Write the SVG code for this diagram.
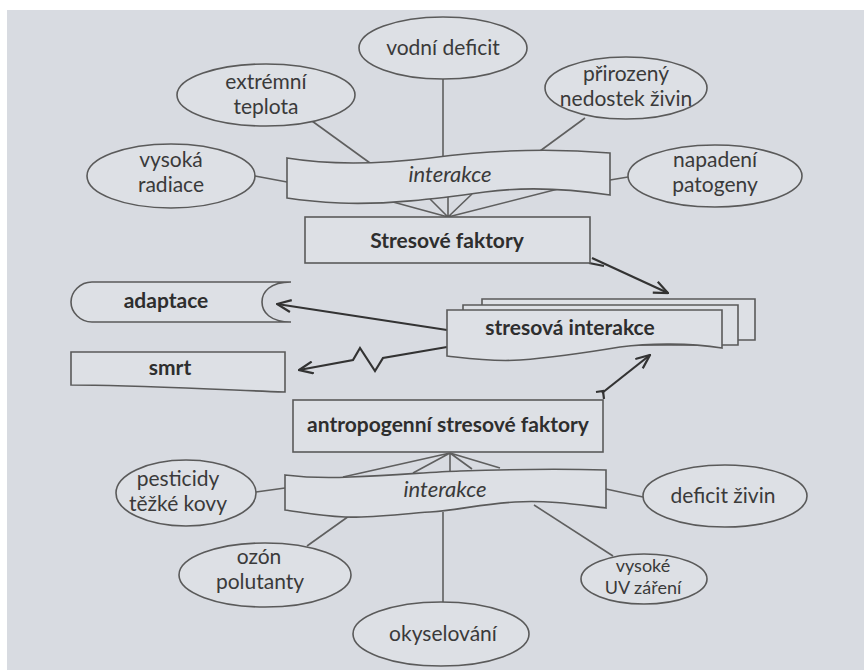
<svg xmlns="http://www.w3.org/2000/svg" width="864" height="670" viewBox="0 0 864 670">
<style>
.sh{fill:#dde0e5;stroke:#5a5a5a;stroke-width:1.6}
.ln{fill:none;stroke:#5f5f5f;stroke-width:1.6}
.ar{fill:none;stroke:#333;stroke-width:2.2}
.t{font-family:Lato,"Liberation Sans",sans-serif;font-size:21px;fill:#3a3a3a;text-anchor:middle}
.s{font-size:18px}
.b{font-weight:bold;fill:#2e2e2e}
.i{font-style:italic;font-size:22px}
</style>
<defs>
<marker id="ah" viewBox="0 0 16 14" refX="15" refY="7" markerWidth="16" markerHeight="14" markerUnits="userSpaceOnUse" orient="auto">
<path d="M1,1 L15,7 L1,13" fill="none" stroke="#333" stroke-width="2.2"/>
</marker>
</defs>
<rect width="864" height="670" fill="#ffffff"/>
<rect x="7" y="10" width="857" height="660" fill="#d8dbe1"/>

<g id="connectors">
<line class="ln" x1="443" y1="79" x2="443" y2="156"/>
<line class="ln" x1="312" y1="121" x2="370" y2="163"/>
<line class="ln" x1="585" y1="118" x2="540" y2="151"/>
<line class="ln" x1="255" y1="176" x2="287" y2="182"/>
<line class="ln" x1="628" y1="177" x2="610" y2="180"/>
<path class="ln" d="M393,202 L448,217 M430,199 L448,217 M448,196 L448,217 M472,194 L448,217 M558,189 L448,217"/>
<line class="ar" x1="592" y1="258" x2="668" y2="293" marker-end="url(#ah)"/>
<path class="ar" d="M589,263 L604,266" />
<line class="ar" x1="447" y1="330" x2="277" y2="304" marker-end="url(#ah)"/>
<polyline class="ar" points="447,347 383,358 375,371 360,348 353,360 299,370" marker-end="url(#ah)"/>
<line class="ar" x1="602" y1="393" x2="650" y2="355" marker-end="url(#ah)"/>
<path class="ar" d="M596,392 L603,391 L604,399"/>
<path class="ln" d="M343,477 L450,453 M413,473 L450,453 M450,471 L450,453 M472,469 L450,453 M500,468 L450,453"/>
<line class="ln" x1="256" y1="492" x2="285" y2="488"/>
<line class="ln" x1="606" y1="489" x2="643" y2="497"/>
<line class="ln" x1="349" y1="516" x2="307" y2="546"/>
<line class="ln" x1="443" y1="512" x2="443" y2="602"/>
<line class="ln" x1="534" y1="505" x2="613" y2="556"/>
</g>

<g id="vodni-deficit"><ellipse class="sh" cx="443" cy="48" rx="84" ry="31"/><text class="t" x="443" y="55">vodní deficit</text></g>
<g id="extremni-teplota"><ellipse class="sh" cx="266" cy="95" rx="89" ry="31"/><text class="t" x="266" y="89">extrémní<tspan x="266" dy="25">teplota</tspan></text></g>
<g id="prirozeny"><ellipse class="sh" cx="626" cy="88" rx="81" ry="31"/><text class="t" x="626" y="81">přirozený<tspan x="626" dy="25">nedostek živin</tspan></text></g>
<g id="vysoka-radiace"><ellipse class="sh" cx="171" cy="176" rx="84" ry="32"/><text class="t" x="171" y="167">vysoká<tspan x="171" dy="25">radiace</tspan></text></g>
<g id="napadeni"><ellipse class="sh" cx="715" cy="176" rx="87" ry="31"/><text class="t" x="715" y="167">napadení<tspan x="715" dy="25">patogeny</tspan></text></g>

<g id="interakce-top"><path class="sh" d="M287,158 C330,165 380,164 430,158 C490,150 550,148 610,153 L610,195 C570,189 530,186 485,192 C435,199 385,205 340,203 C318,202 300,200 287,198 Z"/><text class="t i" x="450" y="182">interakce</text></g>

<g id="stresove-faktory"><rect class="sh" x="305" y="217" width="285" height="46"/><text class="t b" x="447" y="248">Stresové faktory</text></g>

<g id="stresova-interakce">
<path class="sh" d="M482,299 H755 V340 H482 Z"/>
<path class="sh" d="M463,305 H738 V345 H463 Z"/>
<path class="sh" d="M447,310 H722 V348 C690,343 650,343 620,347 C590,352 560,357 520,360 C490,362 465,358 447,356 Z"/>
<text class="t b" x="570" y="335">stresová interakce</text>
</g>

<g id="adaptace"><path class="sh" d="M291,282 L92,282 C80,282 71,292 71,302 C71,312 80,322 92,322 L291,322 C270,322 262,312 262,302 C262,292 270,282 291,282 Z"/><text class="t b" x="166" y="308">adaptace</text></g>

<g id="smrt"><path class="sh" d="M71,352 L285,352 L285,392 C200,389 130,385 71,385 Z"/><text class="t b" x="170" y="375">smrt</text></g>

<g id="antropogenni"><rect class="sh" x="293" y="400" width="310" height="52"/><text class="t b" x="448" y="432">antropogenní stresové faktory</text></g>

<g id="interakce-bottom"><path class="sh" d="M285,475 C310,478 330,478 350,477 C400,475 430,472 460,471 C520,469 570,469 606,470 L606,508 C580,505 550,500 515,502 C480,504 460,510 430,512 C400,514 370,518 345,517 C320,516 300,512 285,510 Z"/><text class="t i" x="445" y="497">interakce</text></g>

<g id="pesticidy"><ellipse class="sh" cx="186" cy="493" rx="70" ry="33"/><text class="t" x="178" y="486">pesticidy<tspan x="178" dy="25">těžké kovy</tspan></text></g>
<g id="deficit-zivin"><ellipse class="sh" cx="725" cy="496" rx="82" ry="31"/><text class="t" x="723" y="503">deficit živin</text></g>
<g id="ozon"><ellipse class="sh" cx="265" cy="575" rx="86" ry="32"/><text class="t" x="259" y="564">ozón<tspan x="260" dy="25">polutanty</tspan></text></g>
<g id="vysoke-uv"><ellipse class="sh" cx="644" cy="579" rx="63" ry="25"/><text class="t s" x="643" y="572">vysoké<tspan x="643" dy="22">UV záření</tspan></text></g>
<g id="okyselovani"><ellipse class="sh" cx="441" cy="634" rx="88" ry="32"/><text class="t" x="443" y="641">okyselování</text></g>
</svg>
